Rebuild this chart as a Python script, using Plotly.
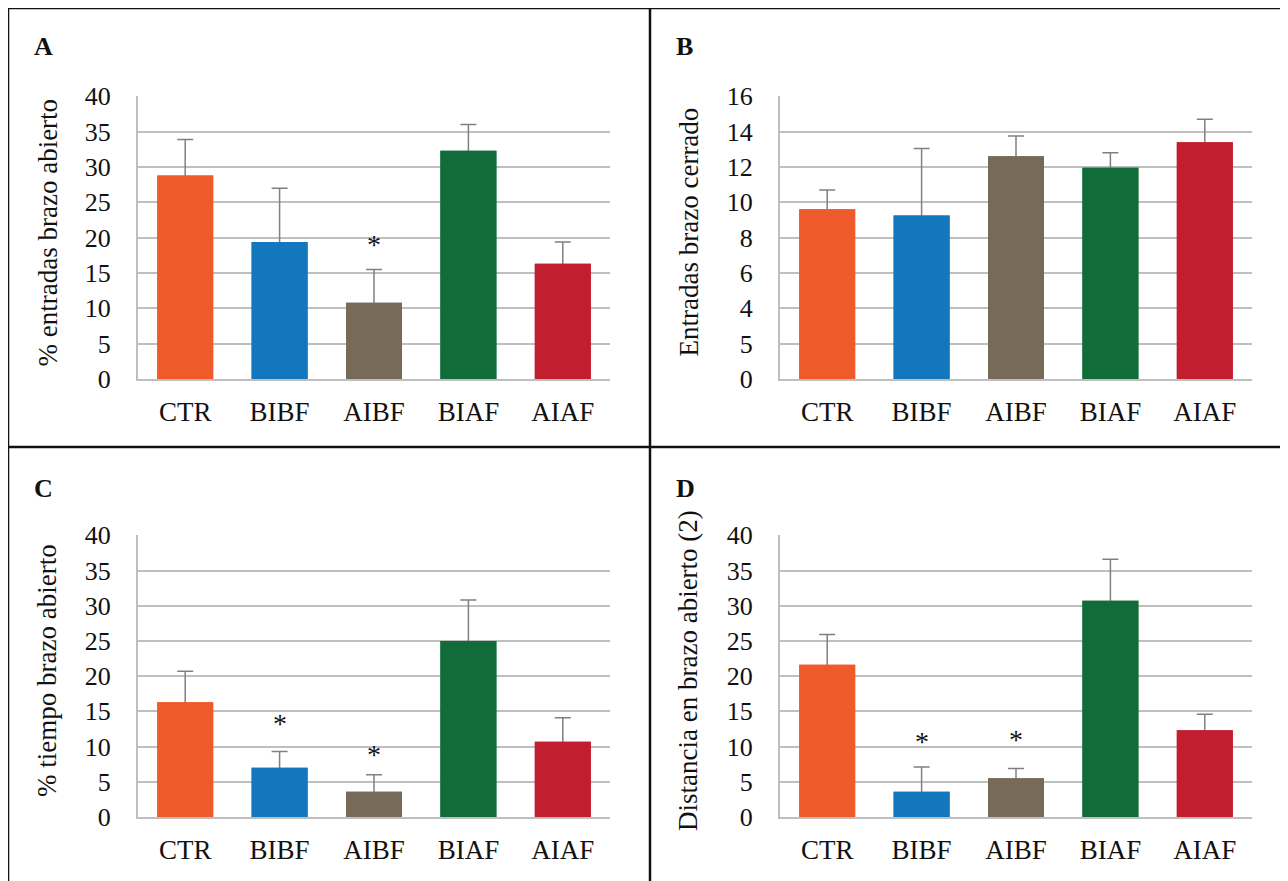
import plotly.graph_objects as go

W, H = 1288, 881
OFF = 8  # page body margin offset

categories = ["CTR", "BIBF", "AIBF", "BIAF", "AIAF"]
colors = ["#EF5A2A", "#1277BC", "#786A58", "#116C3A", "#C11F2F"]

# Panel A: % entradas brazo abierto
a_vals = [28.8, 19.4, 10.8, 32.3, 16.3]
a_err = [5.1, 7.6, 4.7, 3.7, 3.1]
a_star = [None, None, 19.3, None, None]

# Panel B: Entradas brazo cerrado
b_vals = [9.6, 9.25, 12.6, 11.95, 13.4]
b_err = [1.1, 3.8, 1.15, 0.85, 1.3]
b_tickvals = [0, 2, 4, 6, 8, 10, 12, 14, 16]
b_ticktext = ["0", "5", "4", "6", "8", "10", "12", "14", "16"]

# Panel C: % tiempo brazo abierto
c_vals = [16.3, 7.0, 3.6, 25.0, 10.7]
c_err = [4.4, 2.3, 2.4, 5.8, 3.4]
c_star = [None, 13.6, 9.1, None, None]

# Panel D: Distancia en brazo abierto (2)
d_vals = [21.6, 3.6, 5.5, 30.7, 12.3]
d_err = [4.3, 3.5, 1.4, 5.9, 2.3]
d_star = [None, 11.0, 11.3, None, None]

ticks40 = [0, 5, 10, 15, 20, 25, 30, 35, 40]

panels = [
    dict(letter="A", vals=a_vals, err=a_err, stars=a_star, title="% entradas brazo abierto",
         rng=[0, 40], tickvals=ticks40, ticktext=None,
         px=(138, 610), py=(96, 379), tx=47, lx=32, ly=47),
    dict(letter="B", vals=b_vals, err=b_err, stars=[None] * 5, title="Entradas brazo cerrado",
         rng=[0, 16], tickvals=b_tickvals, ticktext=b_ticktext,
         px=(780, 1252), py=(96, 379), tx=688, lx=674, ly=47),
    dict(letter="C", vals=c_vals, err=c_err, stars=c_star, title="% tiempo brazo abierto",
         rng=[0, 40], tickvals=ticks40, ticktext=None,
         px=(138, 610), py=(535, 817), tx=47, lx=32, ly=488),
    dict(letter="D", vals=d_vals, err=d_err, stars=d_star, title="Distancia en brazo abierto (2)",
         rng=[0, 40], tickvals=ticks40, ticktext=None,
         px=(780, 1252), py=(535, 817), tx=688, lx=674, ly=488),
]


def fx(px):
    return (px - OFF) / W


def fy(py):
    return 1 - (py - OFF) / H


FONT = "Liberation Serif"
GRID = "#BFBFBF"
TXT = "#111111"

fig = go.Figure()
annotations = []
layout_axes = {}

for i, p in enumerate(panels):
    n = i + 1
    xa = "x" if n == 1 else f"x{n}"
    ya = "y" if n == 1 else f"y{n}"
    x0, x1 = p["px"]
    y0, y1 = p["py"]
    # lower end of the error bar tucked a few pixels inside the bar (hidden by the overlay bar)
    tuck = p["rng"][1] / (y1 - y0) * 4
    fig.add_trace(go.Bar(
        x=categories, y=p["vals"], xaxis=xa, yaxis=ya,
        marker=dict(color=colors, line=dict(width=0)),
        error_y=dict(type="data", array=p["err"], arrayminus=[tuck] * len(categories),
                     symmetric=False, color="#808080", thickness=1.5, width=8),
        showlegend=False, hoverinfo="x+y",
    ))
    # same bars drawn again on top so only the upward part of the error bar shows
    fig.add_trace(go.Bar(
        x=categories, y=p["vals"], xaxis=xa, yaxis=ya,
        marker=dict(color=colors, line=dict(width=0)),
        showlegend=False, hoverinfo="skip",
    ))
    xkey = "xaxis" if n == 1 else f"xaxis{n}"
    ykey = "yaxis" if n == 1 else f"yaxis{n}"
    layout_axes[xkey] = dict(
        domain=[fx(x0), fx(x1)], anchor=ya, showgrid=False, showline=True,
        linecolor=GRID, linewidth=2, ticks="", ticklabelstandoff=8,
        tickfont=dict(family=FONT, size=27, color=TXT),
        fixedrange=True, automargin=False,
    )
    ydict = dict(
        domain=[fy(y1), fy(y0)], anchor=xa, range=[p["rng"][0], p["rng"][1] * 1.001],
        showgrid=True, gridcolor=GRID, gridwidth=1.5, zeroline=False,
        showline=True, linecolor=GRID, linewidth=2, ticks="",
        tickvals=p["tickvals"], ticklabelstandoff=20,
        tickfont=dict(family=FONT, size=26, color=TXT),
        fixedrange=True, automargin=False,
    )
    if p["ticktext"] is not None:
        ydict["ticktext"] = p["ticktext"]
    layout_axes[ykey] = ydict

    # Axis title
    annotations.append(dict(
        text=p["title"], textangle=-90, xref="paper", yref="paper",
        x=fx(p["tx"]), y=fy((y0 + y1) / 2 - 5), xanchor="center", yanchor="middle",
        showarrow=False, font=dict(family=FONT, size=27, color=TXT),
    ))
    # Panel letter
    annotations.append(dict(
        text=f"<b>{p['letter']}</b>", xref="paper", yref="paper",
        x=fx(p["lx"]), y=fy(p["ly"]), xanchor="left", yanchor="middle",
        showarrow=False, font=dict(family=FONT, size=26, color=TXT),
    ))
    # Significance stars
    for cat, s in zip(categories, p["stars"]):
        if s is not None:
            annotations.append(dict(
                text="*", xref=xa, yref=ya, x=cat, y=s, xanchor="center", yanchor="middle",
                yshift=-2, showarrow=False, font=dict(family=FONT, size=28, color=TXT),
            ))

# Panel border lines
border = dict(color="#111111", width=2.5)
shapes = [
    dict(type="line", xref="paper", yref="paper", x0=fx(8), x1=fx(8), y0=fy(8), y1=fy(895), line=border),
    dict(type="line", xref="paper", yref="paper", x0=fx(650), x1=fx(650), y0=fy(8), y1=fy(895), line=border),
    dict(type="line", xref="paper", yref="paper", x0=fx(8), x1=fx(1300), y0=fy(8), y1=fy(8), line=border),
    dict(type="line", xref="paper", yref="paper", x0=fx(8), x1=fx(1300), y0=fy(447), y1=fy(447), line=border),
]

fig.update_layout(
    width=W, height=H, autosize=False,
    margin=dict(l=0, r=0, t=0, b=0, pad=0),
    paper_bgcolor="white", plot_bgcolor="white",
    bargap=0.407, barmode="overlay", showlegend=False,
    annotations=annotations, shapes=shapes,
    **layout_axes,
)

fig.write_html("out.html", config={"displayModeBar": False})
